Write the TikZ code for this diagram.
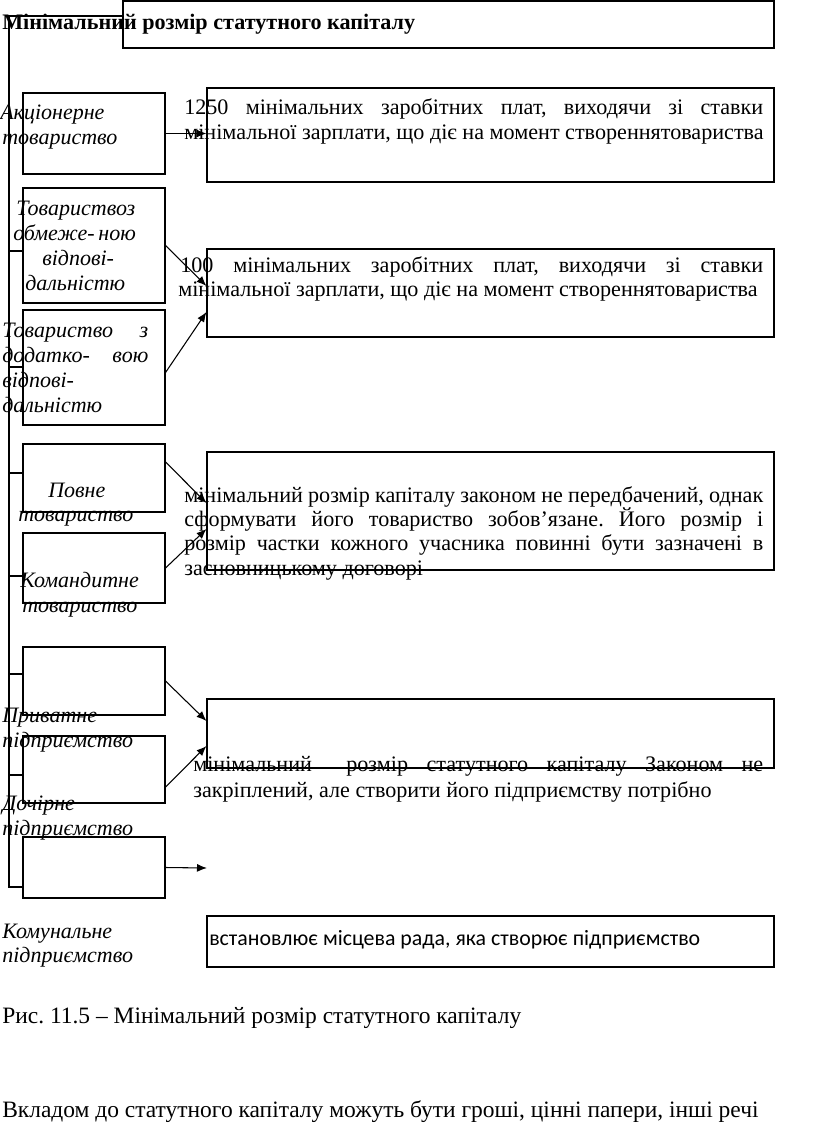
\documentclass[tikz,border=0pt]{standalone}
\usepackage{fontspec}
\setmainfont{Liberation Serif}
\newfontfamily\sansf{Carlito}
\usetikzlibrary{arrows.meta,fit,calc}
\newlength\pxu \setlength\pxu{0.75pt}
\newcommand\jl[2]{\makebox[#1\pxu][s]{#2}}
\frenchspacing
\begin{document}
\begin{tikzpicture}[x=0.75pt,y=-0.75pt,
  bx/.style={draw=black, line width=0.8pt, inner sep=0pt},
  lab/.style={inner sep=0pt, anchor=base west, font=\fontsize{16.5}{19}\selectfont\itshape},
  txt/.style={inner sep=0pt, anchor=base west, font=\fontsize{16.6}{19}\selectfont},
  low/.style={inner sep=0pt, anchor=base west, font=\fontsize{17.6}{20}\selectfont},
  ttl/.style={inner sep=0pt, anchor=base west, font=\fontsize{16.6}{19}\selectfont\bfseries},
  link/.style={line width=0.8pt},
  arr/.style={line width=0.8pt, -{Latex[length=7.5pt,width=6pt]}}]
\useasboundingbox (0,0) rectangle (816,1127);
% boxes
\node[bx, fit={(123,1)(774,48)}] (T) {};
\node[bx, fit={(23,93)(165,174)}] (L1) {};
\node[bx, fit={(23,188)(165,303)}] (L2) {};
\node[bx, fit={(23,310)(165,425)}] (L3) {};
\node[bx, fit={(23,444)(165,512)}] (L4) {};
\node[bx, fit={(23,533)(165,603)}] (L5) {};
\node[bx, fit={(23,647)(165,715)}] (L6) {};
\node[bx, fit={(23,736)(165,803)}] (L7) {};
\node[bx, fit={(23,837)(165,898)}] (L8) {};
\node[bx, fit={(207,88)(774,182)}] (R1) {};
\node[bx, fit={(207,249)(774,337)}] (R2) {};
\node[bx, fit={(207,452)(774,570)}] (R3) {};
\node[bx, fit={(207,699)(774,768)}] (R4) {};
\node[bx, fit={(207,916)(774,967)}] (R5) {};
% spine
\coordinate (top) at (9,16);
\coordinate (bot) at (9,887);
\draw[link] (T.west |- top) -- (top) -- (bot) -- (bot -| L8.west);
\foreach \y/\n in {251/L2,367/L3,473/L4,576/L5,674/L6,775/L7}{
  \coordinate (s\n) at (9,\y);
  \draw[link] (s\n) -- (s\n -| \n.west);
}
% arrows
\coordinate (e8) at (207,868);
\draw[arr] (L1.east) -- (L1.east -| R1.west);
\draw[arr] (L2.east) -- ($(R2.west)+(0,-7)$);
\draw[arr] ($(L3.east)+(0,5)$) -- ($(R2.west)+(0,19)$);
\draw[arr] ($(L4.east)+(0,-16)$) -- ($(R3.west)+(0,-8)$);
\draw[arr] (L5.east) -- ($(R3.west)+(0,18)$);
\draw[arr] (L6.east) -- ($(R4.west)+(0,-12.5)$);
\draw[arr] ($(L7.east)+(0,17.5)$) -- ($(R4.west)+(0,12.5)$);
\draw[arr] (L8.east) -- (e8);
% title
\node[ttl] (tT) at (2,30) {Мінімальний розмір статутного капіталу};
% left labels
\node[lab] (t1a) at (0,120) {Акціонерне};
\node[lab] (t1b) at (2,145) {товариство};
\node[lab] (t2a) at (16,215) {Товариствоз};
\node[lab] (t2b) at (13,240) {\jl{122}{обмеже- ною}};
\node[lab] (t2c) at (42,265) {відпові-};
\node[lab] (t2d) at (25,290) {дальністю};
\node[lab] (t3a) at (2,337) {\jl{146}{Товариство з}};
\node[lab] (t3b) at (2,362) {\jl{146}{додатко- вою}};
\node[lab] (t3c) at (2,387) {відпові-};
\node[lab] (t3d) at (2,412) {дальністю};
\node[lab] (t4a) at (48,497) {Повне};
\node[lab] (t4b) at (18,521) {товариство};
\node[lab] (t5a) at (20,587) {Командитне};
\node[lab] (t5b) at (22,612) {товариство};
\node[lab] (t6a) at (2,722) {Приватне};
\node[lab] (t6b) at (2,747) {підприємство};
\node[lab] (t7a) at (2,810) {Дочірне};
\node[lab] (t7b) at (2,835) {підприємство};
\node[lab] (t8a) at (2,938) {Комунальне};
\node[lab] (t8b) at (2,962) {підприємство};
% right texts
\node[txt] (r1a) at (184,115) {\jl{579}{1250 мінімальних заробітних плат, виходячи зі ставки}};
\node[txt] (r1b) at (184,140) {мінімальної зарплати, що діє на момент створеннятовариства};
\node[txt] (r2a) at (180,272) {\jl{583}{100 мінімальних заробітних плат, виходячи зі ставки}};
\node[txt] (r2b) at (178,296) {мінімальної зарплати, що діє на момент створеннятовариства};
\node[txt] (r3a) at (184,502) {\jl{579}{мінімальний розмір капіталу законом не передбачений, однак}};
\node[txt] (r3b) at (184,526) {\jl{579}{сформувати його товариство зобов’язане. Його розмір і}};
\node[txt] (r3c) at (184,550) {\jl{579}{розмір частки кожного учасника повинні бути зазначені в}};
\node[txt] (r3d) at (184,575) {засновницькому договорі};
\node[txt] (r4a) at (193,771) {\jl{570}{мінімальний\hspace{12pt} розмір статутного капіталу Законом не}};
\node[txt] (r4b) at (193,797) {закріплений, але створити його підприємству потрібно};
\node[txt, font=\fontsize{16.4}{19}\selectfont\sansf] (r5a) at (209,945) {встановлює місцева рада, яка створює підприємство};
% caption and body line
\node[low] (cap) at (2,1023) {Рис. 11.5 – Мінімальний розмір статутного капіталу};
\node[low] (body) at (2,1117) {Вкладом до статутного капіталу можуть бути гроші, цінні папери, інші речі};
\end{tikzpicture}
\end{document}
